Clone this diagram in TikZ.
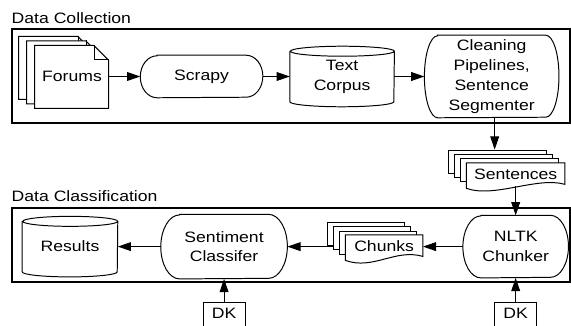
\documentclass[tikz,border=0pt]{standalone}
\usepackage{fontspec}
\setmainfont[FakeStretch=1.17]{Liberation Sans}
\usetikzlibrary{positioning, arrows.meta, backgrounds}

\begin{document}
\begin{tikzpicture}[
  font=\fontsize{10.7pt}{14.2pt}\selectfont,
  lane/.style      = {draw, line width=0.8pt, minimum width=13.95cm,
                      minimum height=#1, inner sep=0pt},
  lanetitle/.style = {anchor=base west, inner sep=0pt},
  term/.style 2 args  = {minimum width=#1, minimum height=#2,
                         align=center, inner sep=0pt},
  store/.style 2 args = {minimum width=#1, minimum height=#2,
                         align=center, inner sep=0pt},
  page/.style 2 args  = {minimum width=#1, minimum height=#2,
                         align=center, inner sep=0pt},
  tag/.style       = {draw, line width=0.7pt, minimum width=1.05cm,
                      inner xsep=0pt, inner ysep=0.15cm, text depth=0.45cm},
  outline/.style   = {draw, line width=0.7pt},
  sheet/.style     = {draw, fill=white, line width=0.7pt},
  flow/.style      = {-{Triangle[length=0.33cm, width=0.22cm]}, line width=0.7pt}
]
\useasboundingbox (0,0) rectangle (14.275,-8.15);

% Data Collection
\node[lane=2.35cm]                              (collect)      at (7.275,-1.9) {};
\node[lanetitle] (collecttitle) at ([yshift=0.125cm]collect.north west) {Data Collection};
\node[page={1.85cm}{1.575cm}]                   (forums)       at (1.8,-1.9125) {Forums};
\node[term={3.05cm}{1.05cm},  right=0.775cm of forums] (scrapy) {Scrapy};
\node[store={2.6cm}{1.5cm},   right=0.675cm of scrapy] (corpus) {Text\\Corpus};
\node[term={3.35cm}{2.05cm},  right=0.75cm of corpus]  (clean)  {Cleaning\\Pipelines,\\Sentence\\Segmenter};
\node[page={2.45cm}{0.575cm}, below=1.125cm of clean, xshift=0.6cm] (sent) {Sentences};
\coordinate (senttop) at ([yshift=0.33cm]sent.north);

% Data Classification
\node[lane=1.85cm]                              (classify)     at (7.275,-6.125) {};
\node[lanetitle] (classifytitle) at ([yshift=0.16cm]classify.north west) {Data Classification};
\node[term={2.625cm}{1.55cm}, below=0.725cm of sent]   (chunker) {NLTK\\Chunker};
\node[page={1.925cm}{0.575cm}, left=1cm of chunker]    (chunks)  {Chunks};
\coordinate (chunksleft) at ([xshift=-0.3cm]chunks.west);
\node[term={3.15cm}{1.6cm},   left=1.45cm of chunks]   (senti)   {Sentiment\\Classifer};
\node[store={2.375cm}{1.5cm}, left=1.075cm of senti]   (results) {Results};
\node[tag, below=0.575cm of senti]   (dkleft)  {DK};
\node[tag, below=0.6cm of chunker]   (dkright) {DK};

% rounded ends and cylinders
\foreach \nd/\rx/\ry in {scrapy/0.42cm/0.525cm, clean/0.33cm/1.025cm,
                         senti/0.47cm/0.8cm, chunker/0.45cm/0.775cm}
  \draw[outline] ([xshift=\rx]\nd.north west) -- ([xshift=-\rx]\nd.north east)
    arc[start angle=90, end angle=-90, x radius=\rx, y radius=\ry]
    -- ([xshift=\rx]\nd.south west)
    arc[start angle=270, end angle=90, x radius=\rx, y radius=\ry] -- cycle;
\foreach \nd/\hw in {corpus/1.3cm, results/1.1875cm}
  \draw[outline] ([yshift=-0.125cm]\nd.north west) -- ([yshift=0.125cm]\nd.south west)
    arc[start angle=180, end angle=360, x radius=\hw, y radius=0.125cm]
    -- ([yshift=-0.125cm]\nd.north east)
    arc[start angle=0, end angle=180, x radius=\hw, y radius=0.125cm]
    arc[start angle=180, end angle=360, x radius=\hw, y radius=0.125cm];

% stacked pages
\begin{scope}[on background layer]
  \foreach \k in {2,1,0} {
    \draw[sheet] ([shift={(-\k*0.2,\k*0.1125)}]forums.south west) -- ++(0,1.575)
      -- ++(1.475,0) -- ++(0.375,-0.375) -- ++(0,-1.2) -- cycle;
    \draw[outline] ([shift={(-\k*0.2-0.375,\k*0.1125)}]forums.north east) |- ++(0.375,-0.375);
  }
  \foreach \nd/\w in {sent/2.45, chunks/1.925} {
    \foreach \k in {3,2,1}
      \draw[sheet] ([shift={(-\k*0.15,\k*0.11)}]\nd.south west) rectangle ++(\w,0.575);
    \draw[sheet] (\nd.north west) -- ([yshift=-0.05cm]\nd.south west)
      .. controls ([xshift=0.7cm,yshift=-0.3cm]\nd.south west)
             and ([xshift=-0.7cm,yshift=0.25cm]\nd.south east)
      .. ([yshift=0.05cm]\nd.south east) -- (\nd.north east) -- cycle;
  }
\end{scope}

% connectors
\draw[flow] (forums)     -- (scrapy);
\draw[flow] (scrapy)     -- (corpus);
\draw[flow] (corpus)     -- (clean);
\draw[flow] ([xshift=0.075cm]clean.south) -- ([xshift=0.075cm]clean.south |- senttop);
\draw[flow] (sent)       -- (chunker);
\draw[flow] (chunker)    -- (chunks);
\draw[flow] (chunksleft) -- (senti);
\draw[flow] (senti)      -- (results);
\draw[flow] (dkleft)     -- (senti);
\draw[flow] (dkright)    -- (chunker);

\end{tikzpicture}
\end{document}
